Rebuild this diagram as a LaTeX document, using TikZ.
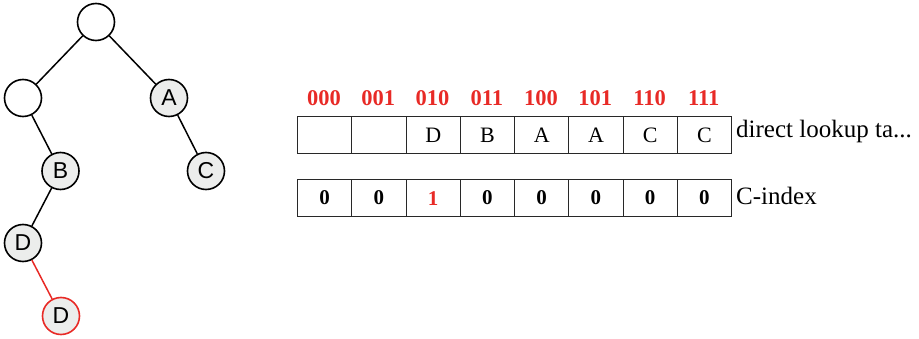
\documentclass[tikz,border=0pt]{standalone}
\usepackage{fontspec}
\setmainfont{Liberation Serif}
\newfontfamily\treefont{Liberation Sans}
\definecolor{myred}{RGB}{232,42,38}
\definecolor{nodegray}{RGB}{236,237,236}
\definecolor{linegray}{RGB}{40,40,40}
\tikzset{
  tnode/.style={circle,draw=black,line width=1.6pt,fill=nodegray,minimum size=37pt,inner sep=0pt,font=\treefont\fontsize{23}{23}\selectfont},
  enode/.style={tnode,fill=white},
  tedge/.style={line width=1.5pt,draw=black},
  cell/.style={draw=linegray,line width=1.2pt,minimum width=54.25pt,inner sep=0pt,anchor=north west},
  topcell/.style={cell,minimum height=37pt,font=\fontsize{22}{22}\selectfont},
  botcell/.style={cell,minimum height=37pt,font=\fontsize{21}{21}\selectfont\bfseries},
  hdr/.style={text=myred,font=\fontsize{22.5}{22.5}\selectfont\bfseries,inner sep=0pt},
  lbl/.style={anchor=west,inner sep=0pt,font=\fontsize{25}{25}\selectfont}
}
\begin{document}
\begin{tikzpicture}[x=1pt,y=-1pt]
\useasboundingbox (0,0) rectangle (919,339);
% tree
\node[enode] (r) at (96,22) {};
\node[enode] (l) at (23,98) {};
\node[tnode] (a) at (169,98) {A};
\node[tnode] (b) at (60.5,171) {B};
\node[tnode] (c) at (206,171) {C};
\node[tnode] (d) at (23,243) {D};
\node[tnode,draw=myred] (d2) at (61,316) {D};
\draw[tedge] (r) -- (l);
\draw[tedge] (r) -- (a);
\draw[tedge] (l) -- (b);
\draw[tedge] (a) -- (c);
\draw[tedge] (b) -- (d);
\draw[tedge,draw=myred] (d) -- (d2);
% tables
\foreach \i/\h/\t in {0/000/,1/001/,2/010/D,3/011/B,4/100/A,5/101/A,6/110/C,7/111/C}{
  \node[topcell] (t\i) at (297+\i*54.25,116) {\t};
  \node[hdr] (h\i) at (324.1+\i*54.25,98) {\h};
}
\foreach \i/\v/\c in {0/0/black,1/0/black,2/1/myred,3/0/black,4/0/black,5/0/black,6/0/black,7/0/black}{
  \node[botcell,text=\c] (b\i) at (297+\i*54.25,179) {\v};
}
\node[lbl] (l1) at (736,131) {direct lookup ta...};
\node[lbl] (l2) at (736,196) {C-index};
\end{tikzpicture}
\end{document}
